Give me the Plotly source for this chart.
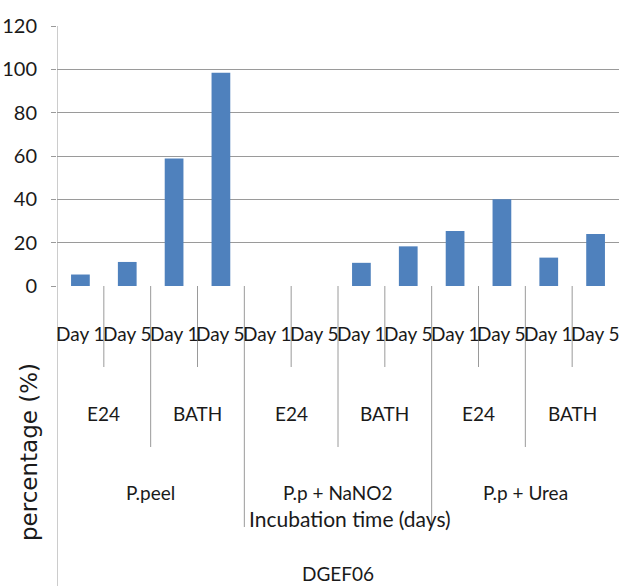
import plotly.graph_objects as go

# Hierarchical categories: strain > substrate > method > day
strain = "DGEF06"
substrates = ["P.peel", "P.p + NaNO2", "P.p + Urea"]
methods = ["E24", "BATH"]
days = ["Day 1", "Day 5"]

# percentage (%) for each substrate / method / day combination, in order
values = [5.3, 11.1, 58.9, 98.4, 0.0, 0.0, 10.7, 18.3, 25.4, 40.0, 13.1, 24.0]

y_ticks = [0, 20, 40, 60, 80, 100, 120]
y_title = "percentage (%)"
x_title = "Incubation time (days)"

BAR = "#4F81BD"
GRID = "#9a9a9a"
TXT = "#1a1a1a"
LABEL_FONT = dict(family="Lato, Roboto, sans-serif", size=19, color=TXT)

W, H = 619, 586
M_T, M_B, M_L, M_R = 26, 300, 57, 0
PLOT_H = H - M_T - M_B
PLOT_W = W - M_L - M_R


def below(px):
    """Paper y coordinate for a point px pixels below the plot's bottom edge."""
    return -px / PLOT_H


n_day, n_meth = len(days), len(methods)
n_sub = len(substrates)
n = n_day * n_meth * n_sub
xs = list(range(n))

fig = go.Figure(go.Bar(x=xs, y=values, marker=dict(color=BAR, line=dict(width=0)),
                       width=0.4, hoverinfo="y"))

shapes = []
annotations = []

# left axis line, running down through all label rows
shapes.append(dict(type="line", xref="x", yref="paper", x0=-0.5, x1=-0.5,
                   y0=1, y1=below(M_B), line=dict(color=GRID, width=1)))

# separators between categories, longer at higher hierarchy levels
for b in range(1, n):
    if b % (n_day * n_meth) == 0:
        depth = 241
    elif b % n_day == 0:
        depth = 161
    else:
        depth = 81
    shapes.append(dict(type="line", xref="x", yref="paper", x0=b - 0.5, x1=b - 0.5,
                       y0=0, y1=below(depth), line=dict(color=GRID, width=1)))

# day labels
for i in xs:
    annotations.append(dict(x=i, y=below(47), xref="x", yref="paper", text=days[i % n_day],
                            showarrow=False, xanchor="center", yanchor="middle", font=LABEL_FONT))

# method labels
for k in range(n // n_day):
    cx = k * n_day + (n_day - 1) / 2
    annotations.append(dict(x=cx, y=below(127), xref="x", yref="paper", text=methods[k % n_meth],
                            showarrow=False, xanchor="center", yanchor="middle", font=LABEL_FONT))

# substrate labels
for s, name in enumerate(substrates):
    span = n_day * n_meth
    cx = s * span + (span - 1) / 2
    annotations.append(dict(x=cx, y=below(207), xref="x", yref="paper", text=name,
                            showarrow=False, xanchor="center", yanchor="middle", font=LABEL_FONT))

# strain label
annotations.append(dict(x=(n - 1) / 2, y=below(287), xref="x", yref="paper", text=strain,
                        showarrow=False, xanchor="center", yanchor="middle", font=LABEL_FONT))

# axis titles
annotations.append(dict(x=(350 - M_L) / PLOT_W, y=below(232), xref="paper", yref="paper",
                        text=x_title, showarrow=False, xanchor="center", yanchor="middle",
                        font=dict(family="Lato, Roboto, sans-serif", size=21, color=TXT)))
annotations.append(dict(x=(29 - M_L) / PLOT_W, y=below(166), xref="paper", yref="paper",
                        text=y_title, textangle=-90, showarrow=False, xanchor="center",
                        yanchor="middle",
                        font=dict(family="DejaVu Sans, sans-serif", size=23, color=TXT)))

fig.update_layout(
    width=W, height=H,
    margin=dict(t=M_T, b=M_B, l=M_L, r=M_R, pad=0),
    paper_bgcolor="white", plot_bgcolor="white",
    showlegend=False, bargap=0.6,
    shapes=shapes, annotations=annotations,
    xaxis=dict(range=[-0.5, n - 0.5], showticklabels=False, showgrid=False,
               zeroline=False, ticks="", fixedrange=True),
    yaxis=dict(range=[0, 120], tickvals=y_ticks, showgrid=True, gridcolor=GRID, gridwidth=1,
               zeroline=False, ticks="outside", ticklen=5, tickcolor=GRID,
               ticklabelstandoff=10,
               tickfont=dict(family="Lato, Roboto, sans-serif", size=20, color=TXT)),
)

fig.write_html("out.html")
